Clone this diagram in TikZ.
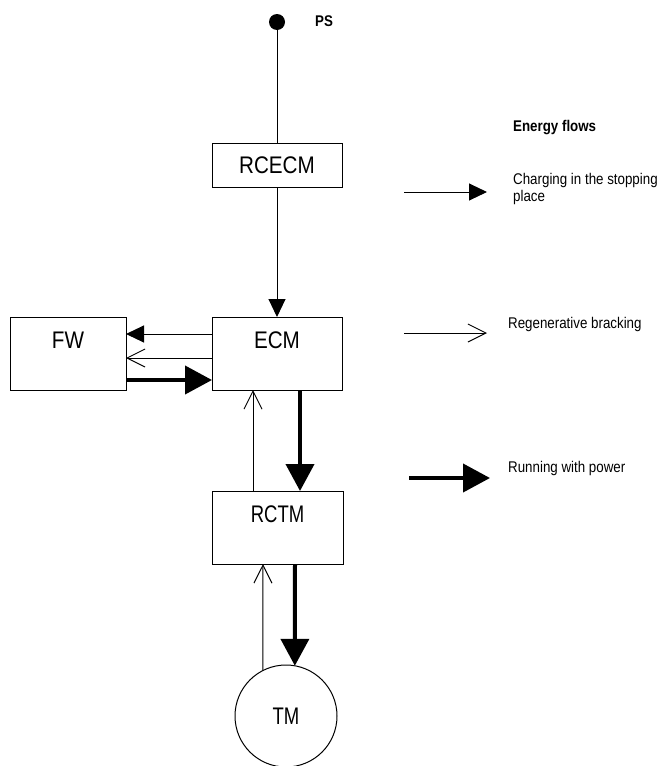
\documentclass[tikz,border=0pt]{standalone}
\usepackage{fontspec}
\setmainfont{Liberation Sans}[FakeStretch=0.86]
\newfontfamily\narrowfont{Liberation Sans}[FakeStretch=0.77]
\usetikzlibrary{arrows.meta}
\begin{document}
\begin{tikzpicture}[x=1pt,y=-1pt,
  box/.style={draw,line width=1pt,rectangle,inner sep=0pt,outer sep=0pt,minimum height=73pt,font=\fontsize{24}{28}\selectfont},
  toptext/.style={text height=17pt,text depth=27pt},
  thin/.style={line width=1pt},
  fillhead/.style={thin,-{Triangle[length=18pt,width=17pt]}},
  openhead/.style={thin,-{Straight Barb[length=18pt,width=18pt,line width=1pt]}},
  thickhead/.style={line width=4pt,-{Triangle[length=27pt,width=28pt]}},
  legend/.style={font=\fontsize{15.5}{17}\selectfont,inner sep=0pt,anchor=base west}
]
\useasboundingbox (0,0) rectangle (662,766);

% nodes
\node[circle,fill=black,inner sep=0pt,minimum size=16pt] (ps) at (277,22) {};
\node[legend,font=\bfseries\fontsize{15.5}{17}\selectfont] (pslabel) at (315,26) {PS};

\node[box,minimum width=130pt,minimum height=44pt] (rcecm) at (277,165) {RCECM};
\node[box,toptext,minimum width=130pt] (ecm) at (277,353.5) {ECM};
\node[box,toptext,minimum width=116pt] (fw) at (68,353.5) {FW};
\node[box,toptext,minimum width=131pt,font=\narrowfont\fontsize{24}{28}\selectfont] (rctm) at (277.5,527.5) {RCTM};
\node[draw,line width=1pt,circle,minimum size=102pt,inner sep=0pt,outer sep=0pt,font=\narrowfont\fontsize{24}{28}\selectfont] (tm) at (286,716) {TM};

% connectors
\draw[thin] (ps) -- (rcecm.north);
\draw[fillhead] (rcecm.south) -- (ecm.north);
\draw[fillhead] ([yshift=19.5pt]ecm.west) -- ([yshift=19.5pt]fw.east);
\draw[openhead] ([yshift=-4.5pt]ecm.west) -- ([yshift=-4.5pt]fw.east);
\draw[thickhead] ([yshift=-26.5pt]fw.east) -- ([yshift=-26.5pt]ecm.west);
\draw[thickhead] ([xshift=23pt]ecm.south) -- ([xshift=22.5pt]rctm.north);
\draw[openhead] ([xshift=-24.5pt]rctm.north) -- ([xshift=-24pt]ecm.south);
\draw[thickhead] ([xshift=17.5pt]rctm.south) -- (tm.80);
\draw[openhead] (tm.117) -- ([xshift=-14.5pt]rctm.south);

% legend
\node[legend,font=\bfseries\fontsize{15.5}{17}\selectfont] (title) at (513,131) {Energy flows};
\coordinate (l1s) at (404,192);
\coordinate (l1e) at (487,192);
\draw[fillhead] (l1s) -- (l1e);
\node[font=\fontsize{15.5}{17}\selectfont,inner sep=0pt,anchor=north west,align=left] (l1t) at (513,173.5) {Charging in the stopping\\place};
\coordinate (l2s) at (404,333);
\coordinate (l2e) at (487,333);
\draw[openhead] (l2s) -- (l2e);
\node[legend] (l2t) at (508,328.5) {Regenerative bracking};
\coordinate (l3s) at (409,478);
\coordinate (l3e) at (490,478);
\draw[thickhead] (l3s) -- (l3e);
\node[legend] (l3t) at (508,472.5) {Running with power};
\end{tikzpicture}
\end{document}
